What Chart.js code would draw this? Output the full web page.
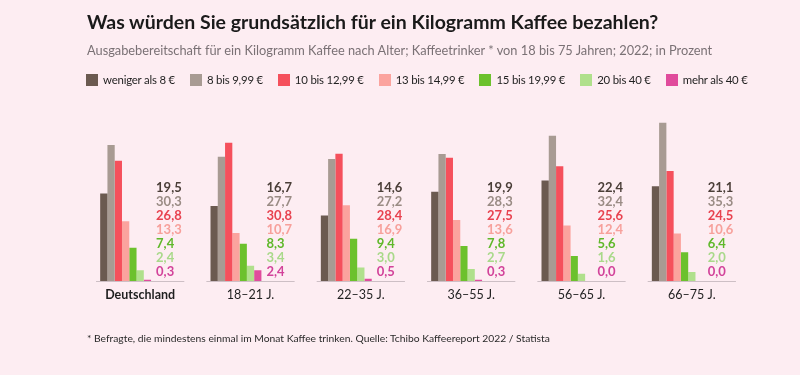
<!DOCTYPE html>
<html lang="de">
<head>
<meta charset="utf-8">
<script src="https://cdn.jsdelivr.net/npm/chart.js@4"></script>
<style>
  html, body { margin: 0; padding: 0; }
  body { width: 800px; height: 375px; background: #fdedf2; position: relative; overflow: hidden; font-family: Lato, "Open Sans", sans-serif; }
  #chart { position: absolute; left: 0; top: 0; }
  .title { position: absolute; left: 87px; top: 10px; font-weight: bold; font-size: 19.5px; line-height: 24px; color: #1a1a1a; white-space: nowrap; }
  .subtitle { position: absolute; left: 87px; top: 41px; font-size: 12.8px; line-height: 18px; color: #7a7175; white-space: nowrap; }
  .legend { position: absolute; left: 86px; top: 71px; display: flex; gap: 15px; font-size: 11.4px; letter-spacing: -0.2px; line-height: 18px; color: #1f1f1f; white-space: nowrap; }
  .legend span { display: flex; align-items: center; }
  .legend i { display: inline-block; width: 12px; height: 12px; margin-right: 5px; }
  .note { position: absolute; left: 87px; top: 331px; font-size: 10.3px; line-height: 14px; color: #2a2a2a; white-space: nowrap; }
</style>
</head>
<body>
<canvas id="chart" width="800" height="375"></canvas>
<div class="title">Was würden Sie grundsätzlich für ein Kilogramm Kaffee bezahlen?</div>
<div class="subtitle">Ausgabebereitschaft für ein Kilogramm Kaffee nach Alter; Kaffeetrinker * von 18 bis 75 Jahren; 2022; in Prozent</div>
<div class="legend" id="legend"></div>
<div class="note">* Befragte, die mindestens einmal im Monat Kaffee trinken. Quelle: Tchibo Kaffeereport 2022 / Statista</div>
<script>
// Daten
const categories = ['Deutschland', '18–21 J.', '22–35 J.', '36–55 J.', '56–65 J.', '66–75 J.'];
const seriesNames = ['weniger als 8\u202F€', '8 bis 9,99\u202F€', '10 bis 12,99\u202F€', '13 bis 14,99\u202F€', '15 bis 19,99\u202F€', '20 bis 40\u202F€', 'mehr als 40\u202F€'];
const under8 = [19.5, 16.7, 14.6, 19.9, 22.4, 21.1];
const from8 = [30.3, 27.7, 27.2, 28.3, 32.4, 35.3];
const from10 = [26.8, 30.8, 28.4, 27.5, 25.6, 24.5];
const from13 = [13.3, 10.7, 16.9, 13.6, 12.4, 10.6];
const from15 = [7.4, 8.3, 9.4, 7.8, 5.6, 6.4];
const from20 = [2.4, 3.4, 3.0, 2.7, 1.6, 2.0];
const over40 = [0.3, 2.4, 0.5, 0.3, 0.0, 0.0];

const seriesValues = [under8, from8, from10, from13, from15, from20, over40];
const barColors = ['#6b5a50', '#a89b93', '#f5505c', '#fba39e', '#6cc12d', '#b0e08c', '#e04b9c'];
const textColors = ['#4a3e38', '#9a8c85', '#e8424f', '#f7a09b', '#5fb82a', '#a9d98a', '#d2439a'];

// Legende (HTML)
const legend = document.getElementById('legend');
seriesNames.forEach((name, i) => {
    const item = document.createElement('span');
    item.innerHTML = '<i style="background:' + barColors[i] + '"></i>' + name;
    legend.appendChild(item);
});

// Datensätze: 7 echte + 4 leere Platzhalter (Platz für die Wertbeschriftung)
const datasets = seriesValues.map((vals, i) => ({
    label: seriesNames[i],
    data: vals,
    backgroundColor: barColors[i],
    barPercentage: 1,
    categoryPercentage: 0.725
}));
for (let k = 0; k < 4; k++) {
    datasets.push({ label: '', data: [], barPercentage: 1, categoryPercentage: 0.725 });
}

const groupDecor = {
    id: 'groupDecor',
    afterDatasetsDraw(chart) {
        const ctx = chart.ctx;
        const xs = chart.scales.x;
        const area = chart.chartArea;
        const catW = xs.width / categories.length;
        ctx.save();
        // Grundlinie pro Gruppe
        ctx.strokeStyle = '#cdbfc5';
        ctx.lineWidth = 1;
        categories.forEach((c, j) => {
            const cx = xs.getPixelForValue(j);
            ctx.beginPath();
            ctx.moveTo(cx - catW * 0.4, area.bottom + 0.5);
            ctx.lineTo(cx + catW * 0.4, area.bottom + 0.5);
            ctx.stroke();
        });
        // Wertbeschriftung rechts neben den Balken
        ctx.font = 'bold 13px Lato, sans-serif';
        ctx.textAlign = 'left';
        ctx.textBaseline = 'middle';
        const lastMeta = chart.getDatasetMeta(seriesValues.length - 1);
        categories.forEach((c, j) => {
            const bar = lastMeta.data[j];
            const x = bar.x + bar.width / 2 + 5;
            seriesValues.forEach((vals, i) => {
                const y = area.bottom - 9 - (seriesValues.length - 1 - i) * 14.1;
                ctx.fillStyle = textColors[i];
                ctx.fillText(vals[j].toFixed(1).replace('.', ','), x, y);
            });
        });
        ctx.restore();
    }
};

const ctx = document.getElementById('chart').getContext('2d');
new Chart(ctx, {
    type: 'bar',
    data: { labels: categories, datasets: datasets },
    options: {
        responsive: false,
        animation: false,
        devicePixelRatio: 1,
        layout: { padding: { left: 85, right: 53, top: 101.6, bottom: 67 } },
        plugins: { legend: { display: false }, tooltip: { enabled: false } },
        scales: {
            x: {
                grid: { display: false, drawTicks: false },
                border: { display: false },
                ticks: {
                    padding: 6,
                    color: '#1f1f1f',
                    font: (c) => ({ family: 'Lato, sans-serif', size: 12.5, weight: c.index === 0 ? 'bold' : 'normal' })
                }
            },
            y: {
                display: false,
                min: 0,
                max: 40
            }
        }
    },
    plugins: [groupDecor]
});
</script>
</body>
</html>
